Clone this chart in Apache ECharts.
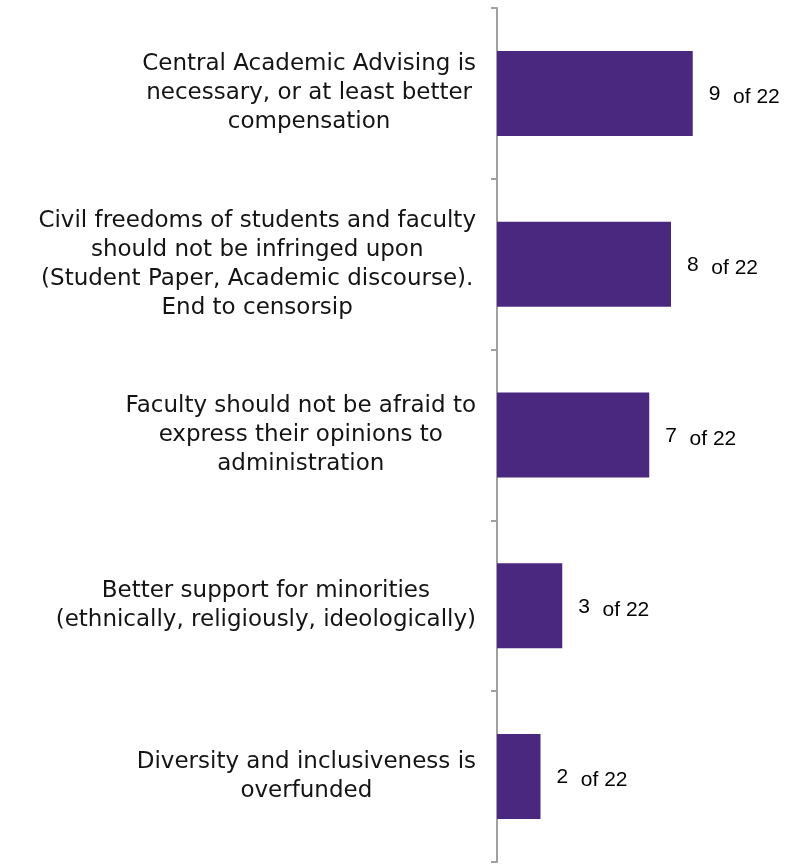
<!DOCTYPE html>
<html>
<head>
<meta charset="utf-8">
<script src="https://cdn.jsdelivr.net/npm/echarts@6/dist/echarts.min.js"></script>
<style>
  html, body { margin: 0; padding: 0; background: #fff; }
  #chart { width: 792px; height: 865px; }
</style>
</head>
<body>
<div id="chart"></div>
<script>
// Survey themes and how many of the 22 respondents raised each one
const categories = [
  'Central Academic Advising is\nnecessary, or at least better\ncompensation',
  'Civil freedoms of students and faculty\nshould not be infringed upon\n(Student Paper, Academic discourse).\nEnd to censorsip',
  'Faculty should not be afraid to\nexpress their opinions to\nadministration',
  'Better support for minorities\n(ethnically, religiously, ideologically)',
  'Diversity and inclusiveness is\noverfunded'
];
const counts = [9, 8, 7, 3, 2];
const totalRespondents = 22;

const chart = echarts.init(document.getElementById('chart'));
chart.setOption({
  animation: false,
  grid: { left: 497, top: 8, width: 217.5, height: 854 },
  xAxis: {
    type: 'value',
    min: 0,
    max: 10,
    show: false
  },
  yAxis: {
    type: 'category',
    inverse: true,
    data: categories,
    axisLine: { show: true, lineStyle: { color: '#a0a0a0', width: 2 } },
    axisTick: { show: true, length: 6, lineStyle: { color: '#a0a0a0', width: 2 } },
    axisLabel: {
      margin: 21,
      align: 'right',
      // each line is centred inside the label block, block sits right-aligned
      formatter: function (v) {
        return v.split('\n').map(function (s) { return '{c|' + s + '}'; }).join('\n');
      },
      rich: {
        c: {
          align: 'center',
          fontFamily: 'DejaVu Sans',
          fontSize: 23,
          lineHeight: 29,
          color: '#141414'
        }
      }
    }
  },
  series: [{
    type: 'bar',
    data: counts,
    barWidth: 85,
    itemStyle: { color: '#4A2880' },
    label: {
      show: true,
      position: 'right',
      distance: 16,
      offset: [0, 4],
      formatter: function (p) { return '{n|' + p.value + '}  {t|of ' + totalRespondents + '}'; },
      rich: {
        n: { fontFamily: 'Liberation Sans', fontSize: 21, color: '#000', padding: [0, 6, 6, 0] },
        t: { fontFamily: 'Liberation Sans', fontSize: 21, color: '#000' }
      }
    }
  }]
});
</script>
</body>
</html>
